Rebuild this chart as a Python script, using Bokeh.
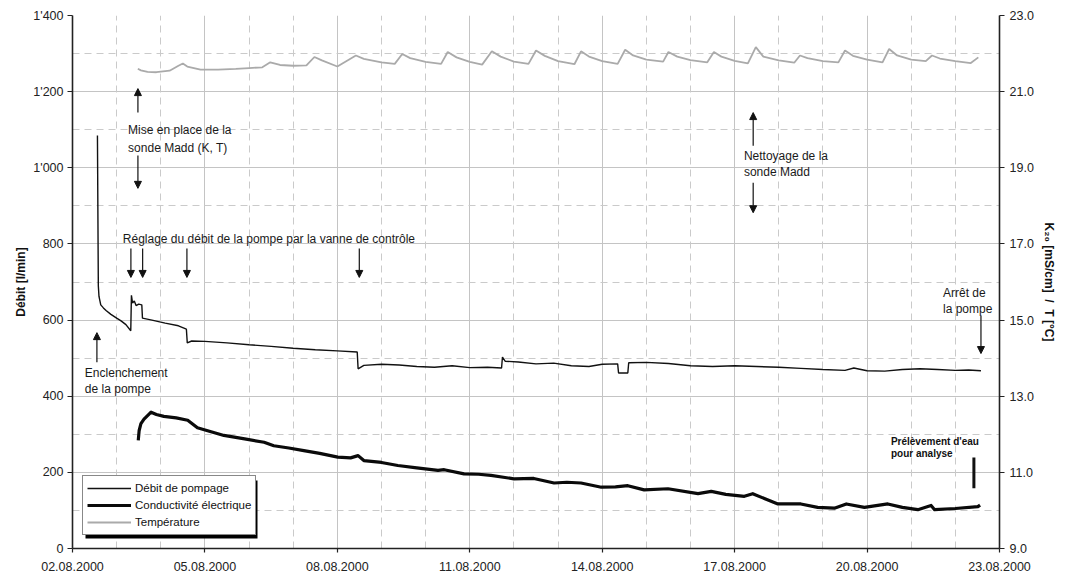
from bokeh.plotting import figure
from bokeh.models import (LinearAxis, Range1d, FixedTicker, Grid, Legend, LegendItem,
                          Arrow, NormalHead, ColumnDataSource, BoxAnnotation,
                          NumeralTickFormatter)
from bokeh.core.properties import value
from bokeh.embed import file_html
from bokeh.resources import INLINE

# ---------------- data (x = days since 02.08.2000 00:00) ----------------
flow_days = [0.565, 0.585, 0.60, 0.64, 0.70, 0.76, 0.87, 1.00, 1.10, 1.21,
             1.32, 1.335, 1.36, 1.40, 1.44, 1.50, 1.57, 1.585, 1.80, 2.10,
             2.40, 2.58, 2.60, 2.70, 3.00, 3.50, 4.00, 4.50, 5.00, 5.50,
             6.00, 6.45, 6.47, 6.60, 7.00, 7.40, 7.80, 8.20, 8.60, 9.00,
             9.40, 9.72, 9.74, 9.80, 10.10, 10.50, 10.90, 11.30, 11.70, 12.00,
             12.35, 12.37, 12.58, 12.60, 13.00, 13.50, 14.00, 14.50, 15.00, 15.50,
             16.00, 16.50, 17.00, 17.50, 17.70, 18.00, 18.40, 18.80, 19.20, 19.60,
             20.00, 20.30, 20.58]
flow_lmin = [1085, 690, 662, 640, 632, 625, 615, 605, 598, 588,
             572, 665, 645, 650, 638, 642, 640, 605, 600, 592,
             585, 576, 540, 545, 544, 540, 535, 531, 526, 522,
             519, 516, 472, 481, 484, 482, 478, 476, 480, 475,
             476, 474, 503, 492, 490, 485, 487, 480, 478, 484,
             485, 461, 461, 488, 489, 486, 480, 478, 480, 478,
             476, 473, 470, 468, 474, 467, 466, 470, 472, 470,
             468, 469, 467]

cond_days = [1.49, 1.51, 1.55, 1.62, 1.78, 1.90, 2.07, 2.35, 2.61, 2.83,
             3.10, 3.43, 3.90, 4.34, 4.56, 4.90, 5.24, 5.60, 6.01, 6.30,
             6.47, 6.60, 7.00, 7.37, 7.80, 8.28, 8.42, 8.87, 9.20, 9.48,
             10.00, 10.45, 10.91, 11.20, 11.52, 11.98, 12.30, 12.58, 12.95, 13.49,
             14.17, 14.47, 14.80, 15.22, 15.41, 15.70, 15.98, 16.50, 16.88, 17.26,
             17.53, 17.94, 18.47, 18.80, 19.15, 19.45, 19.53, 20.00, 20.51, 20.56]
cond_k20 = [11.84, 12.10, 12.28, 12.40, 12.58, 12.52, 12.47, 12.43, 12.37, 12.17,
            12.08, 11.97, 11.88, 11.79, 11.70, 11.64, 11.57, 11.50, 11.40, 11.38,
            11.44, 11.31, 11.26, 11.18, 11.12, 11.05, 11.07, 10.96, 10.95, 10.92,
            10.83, 10.84, 10.72, 10.74, 10.72, 10.61, 10.62, 10.65, 10.54, 10.57,
            10.44, 10.50, 10.42, 10.37, 10.44, 10.30, 10.17, 10.17, 10.08, 10.06,
            10.17, 10.08, 10.17, 10.08, 10.02, 10.13, 10.02, 10.05, 10.10, 10.14]

temp_days = [1.48, 1.55, 1.70, 1.90, 2.20, 2.40, 2.50, 2.60, 2.90, 3.30,
             3.70, 4.00, 4.30, 4.48, 4.70, 5.00, 5.30, 5.48, 5.65, 6.00,
             6.42, 6.60, 7.00, 7.30, 7.47, 7.65, 8.00, 8.35, 8.50, 8.70,
             9.00, 9.28, 9.50, 9.70, 10.00, 10.33, 10.50, 10.70, 11.00, 11.37,
             11.52, 11.70, 12.00, 12.35, 12.52, 12.70, 13.00, 13.38, 13.50, 13.70,
             14.00, 14.38, 14.53, 14.70, 15.00, 15.30, 15.48, 15.65, 16.00, 16.35,
             16.48, 16.65, 17.00, 17.35, 17.50, 17.68, 18.00, 18.35, 18.50, 18.68,
             19.00, 19.33, 19.47, 19.65, 20.00, 20.35, 20.52]
temp_c = [21.60, 21.56, 21.52, 21.51, 21.55, 21.68, 21.74, 21.66, 21.58, 21.58,
          21.60, 21.62, 21.64, 21.77, 21.70, 21.68, 21.69, 21.91, 21.82, 21.66,
          21.95, 21.86, 21.77, 21.73, 21.99, 21.88, 21.78, 21.73, 22.04, 21.90,
          21.78, 21.71, 22.06, 21.92, 21.79, 21.73, 22.08, 21.94, 21.80, 21.72,
          22.06, 21.92, 21.80, 21.73, 22.10, 21.95, 21.84, 21.79, 22.04, 21.92,
          21.83, 21.77, 22.04, 21.92, 21.81, 21.74, 22.17, 21.92, 21.82, 21.76,
          21.95, 21.88, 21.80, 21.77, 22.08, 21.94, 21.84, 21.77, 22.12, 21.95,
          21.84, 21.80, 21.95, 21.87, 21.80, 21.75, 21.90]

series_names = ["Débit de pompage", "Conductivité électrique", "Température"]

x_ticks = [0, 3, 6, 9, 12, 15, 18, 21]
x_tick_labels = ["02.08.2000", "05.08.2000", "08.08.2000", "11.08.2000",
                 "14.08.2000", "17.08.2000", "20.08.2000", "23.08.2000"]
x_minor_grid = [1, 2, 4, 5, 7, 8, 10, 11, 13, 14, 16, 17, 19, 20]
y_ticks = [0, 200, 400, 600, 800, 1000, 1200, 1400]
y_tick_labels = ["0", "200", "400", "600", "800", "1'000", "1'200", "1'400"]
y_minor_grid = [100, 300, 500, 700, 900, 1100, 1300]
y2_ticks = [9, 11, 13, 15, 17, 19, 21, 23]

# annotations (data units: days, l/min)
note_x = [0.28, 0.28, 1.26, 1.26, 1.14, 15.21, 15.21, 19.72, 19.72]
note_y = [460, 420, 1098, 1053, 814, 1030, 990, 670, 628]
note_text = ["Enclenchement", "de la pompe", "Mise en place de la", "sonde Madd (K, T)",
             "Réglage du débit de la pompe par la vanne de contrôle",
             "Nettoyage de la", "sonde Madd", "Arrêt de", "la pompe"]
bold_x = [18.54, 18.54]
bold_y = [281, 249]
bold_text = ["Prélèvement d'eau", "pour analyse"]
arrow_x = [0.553, 1.482, 1.482, 1.323, 1.589, 2.592, 6.497, 15.42, 15.42, 20.58]
arrow_y0 = [489, 1145, 1032, 788, 788, 788, 788, 1058, 961, 612]
arrow_y1 = [567, 1208, 946, 712, 712, 712, 712, 1145, 882, 512]
sample_x = [20.42]
sample_y0 = [239]
sample_y1 = [158]

FONT = "Liberation Sans"

W, H = 1062, 576
BL, BR, BT, BB = 72, 63, 15, 28
p = figure(width=W, height=H, x_range=Range1d(0, 21), y_range=Range1d(0, 1400),
           output_backend="svg", toolbar_location=None,
           min_border_left=BL, min_border_right=BR, min_border_top=BT, min_border_bottom=BB)
p.outline_line_color = None
p.background_fill_color = "white"
p.extra_y_ranges = {"right": Range1d(9, 23)}

# grids
p.xgrid.ticker = FixedTicker(ticks=x_ticks)
p.xgrid.grid_line_color = "#c4c4c4"
p.ygrid.ticker = FixedTicker(ticks=y_ticks)
p.ygrid.grid_line_color = "#c4c4c4"
p.add_layout(Grid(dimension=0, ticker=FixedTicker(ticks=x_minor_grid),
                  grid_line_color="#cacaca", grid_line_dash="7 5"))
p.add_layout(Grid(dimension=1, ticker=FixedTicker(ticks=y_minor_grid),
                  grid_line_color="#cacaca", grid_line_dash="7 5"))

def style_axis(ax):
    ax.axis_line_color = "#222222"
    ax.axis_line_width = 1.6
    ax.major_tick_line_color = "#222222"
    ax.major_tick_line_width = 1.2
    ax.major_tick_in = 0
    ax.major_tick_out = 5
    ax.minor_tick_line_color = None
    ax.major_label_text_font = FONT
    ax.major_label_text_font_size = "12.5px"
    ax.major_label_text_color = "#222222"
    ax.axis_label_text_font = FONT
    ax.axis_label_text_font_size = "12px"
    ax.axis_label_text_font_style = "bold"
    ax.axis_label_text_color = "#111111"

xa = p.xaxis[0]
style_axis(xa)
xa.ticker = FixedTicker(ticks=x_ticks)
xa.major_label_overrides = {t: l for t, l in zip(x_ticks, x_tick_labels)}
xa.major_tick_out = 4
xa.major_label_standoff = 9

ya = p.yaxis[0]
style_axis(ya)
ya.ticker = FixedTicker(ticks=y_ticks)
ya.major_label_overrides = {t: l for t, l in zip(y_ticks, y_tick_labels)}
ya.major_label_standoff = 4
ya.axis_label = "Débit [l/min]"
ya.axis_label_standoff = 2

ra = LinearAxis(y_range_name="right", ticker=FixedTicker(ticks=y2_ticks),
                formatter=NumeralTickFormatter(format="0.0"))
style_axis(ra)
ra.major_label_standoff = 5
ra.axis_label = "K\u2082\u2080 [mS/cm]\u00a0\u00a0/\u00a0\u00a0T [°C]"
ra.axis_label_standoff = 5
p.add_layout(ra, "right")

# series
r_temp = p.line(temp_days, temp_c, y_range_name="right", line_color="#aaaaaa", line_width=1.8)
r_flow = p.line(flow_days, flow_lmin, line_color="#111111", line_width=1.4)
r_cond = p.line(cond_days, cond_k20, y_range_name="right", line_color="#0a0a0a",
                line_width=3.2, line_join="round")

# annotations
src_notes = ColumnDataSource(dict(x=note_x, y=note_y, t=note_text))
p.text(x="x", y="y", text="t", source=src_notes, text_font=value(FONT),
       text_font_size="12px", text_baseline="middle", text_align="left", text_color="#1a1a1a")
src_bold = ColumnDataSource(dict(x=bold_x, y=bold_y, t=bold_text))
p.text(x="x", y="y", text="t", source=src_bold, text_font=value(FONT),
       text_font_size="10px", text_font_style="bold", text_baseline="middle",
       text_align="left", text_color="#111111")
for xa_, y0, y1 in zip(arrow_x, arrow_y0, arrow_y1):
    p.add_layout(Arrow(end=NormalHead(size=7, fill_color="#111111", line_color="#111111",
                                      line_width=1),
                       x_start=xa_, y_start=y0, x_end=xa_, y_end=y1,
                       line_color="#111111", line_width=1.2))
p.segment(x0=sample_x, y0=sample_y0, x1=sample_x, y1=sample_y1,
          line_color="#111111", line_width=3)

# legend with drop shadow
LX, LY, LW, LH, SH = 10, 13, 172, 58, 3
px_x = 21 / (W - BL - BR)
px_y = 1400 / (H - BT - BB)
p.add_layout(BoxAnnotation(left=(LX + SH) * px_x, right=(LX + LW + SH) * px_x,
                           bottom=(LY - SH) * px_y, top=(LY + LH - SH) * px_y,
                           fill_color="black", fill_alpha=1, line_color=None))
legend = Legend(items=[LegendItem(label=series_names[0], renderers=[r_flow]),
                       LegendItem(label=series_names[1], renderers=[r_cond]),
                       LegendItem(label=series_names[2], renderers=[r_temp])],
                location=(LX, LY), orientation="vertical",
                label_text_font=FONT, label_text_font_size="11.5px", label_text_color="#111111",
                glyph_width=44, glyph_height=16, label_height=16, label_standoff=4,
                spacing=1, padding=4, margin=0,
                border_line_color="#111111", border_line_width=1,
                background_fill_color="white", background_fill_alpha=1)
p.add_layout(legend)

open("out.html", "w").write(file_html(p, INLINE))
